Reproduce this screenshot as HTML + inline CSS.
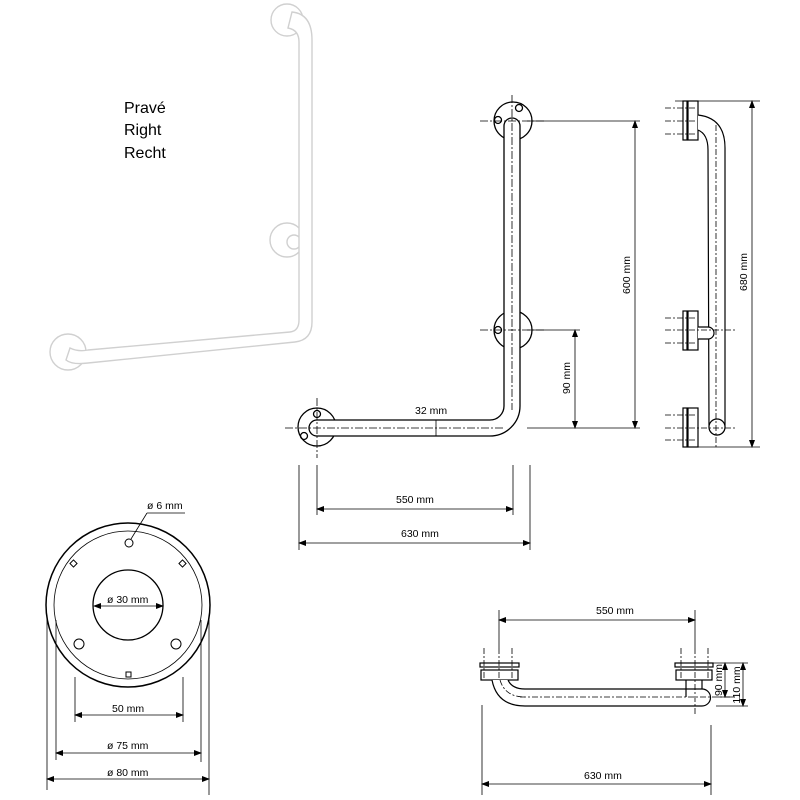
<!DOCTYPE html>
<html><head><meta charset="utf-8"><style>
body{margin:0;background:#fff}
svg{display:block}
text{font-family:"Liberation Sans",sans-serif;font-size:10.5px;fill:#000}
</style></head><body>
<svg width="800" height="800" viewBox="0 0 800 800" xmlns="http://www.w3.org/2000/svg">
<defs>
<marker id="a" markerWidth="8" markerHeight="6" refX="7" refY="3" orient="auto-start-reverse" markerUnits="userSpaceOnUse"><path d="M0,0 L8,3 L0,6 z" fill="#000"/></marker>
</defs>
<!-- photo grab bar -->
<g fill="#fff" stroke="#d0d0d0" stroke-width="1.4">
<circle cx="287" cy="20" r="16"/>
<circle cx="287" cy="240" r="17"/>
<circle cx="68" cy="352" r="18"/>
<circle cx="294" cy="242" r="7"/>
<path d="M292,12 Q312,14 312,40 L312,322 Q312,340 295,342 L88,363 Q72,365 66,360 L70,348 Q78,352 88,350 L290,332 Q299,331 299,320 L299,42 Q299,30 288,28 Z"/>
</g>
<text x="124" y="113" style="font-size:16px">Pravé</text>
<text x="124" y="135" style="font-size:16px">Right</text>
<text x="124" y="158" style="font-size:16px">Recht</text>

<!-- front view -->
<g fill="none" stroke="#000" stroke-width="1.3">
<circle cx="513" cy="121" r="19"/>
<circle cx="513" cy="330" r="19"/>
<circle cx="317" cy="427" r="19"/>
<path d="M504,126 A8,8 0 0 1 520,126 L520,406 A30,30 0 0 1 490,436 L317,436 A8,8 0 0 1 317,420 L490,420 A14,14 0 0 0 504,406 Z" fill="#fff"/>
<circle cx="498" cy="120" r="3.5"/><circle cx="519" cy="108" r="3.5"/>
<circle cx="498" cy="330" r="3.5"/>
<circle cx="317" cy="414" r="3.5"/><circle cx="304" cy="436" r="3.5"/>
</g>
<g stroke="#000" stroke-width="0.8" stroke-dasharray="8,2,2,2" fill="none">
<line x1="512" y1="95" x2="512" y2="410"/>
<line x1="480" y1="121" x2="545" y2="121"/>
<line x1="480" y1="330" x2="545" y2="330"/>
<line x1="317" y1="398" x2="317" y2="458"/>
<line x1="285" y1="428" x2="505" y2="428"/>
</g>
<g stroke="#000" stroke-width="0.8" fill="none">
<line x1="527" y1="121" x2="640" y2="121"/>
<line x1="527" y1="428" x2="640" y2="428"/>
<line x1="527" y1="330" x2="580" y2="330"/>
<line x1="635" y1="121" x2="635" y2="428" marker-start="url(#a)" marker-end="url(#a)"/>
<line x1="575" y1="330" x2="575" y2="428" marker-start="url(#a)" marker-end="url(#a)"/>
<line x1="436" y1="420" x2="436" y2="436"/>
<line x1="299" y1="465" x2="299" y2="550"/>
<line x1="530" y1="465" x2="530" y2="550"/>
<line x1="317" y1="465" x2="317" y2="515"/>
<line x1="513" y1="465" x2="513" y2="515"/>
<line x1="317" y1="509" x2="513" y2="509" marker-start="url(#a)" marker-end="url(#a)"/>
<line x1="299" y1="543" x2="530" y2="543" marker-start="url(#a)" marker-end="url(#a)"/>
</g>
<text x="415" y="414">32 mm</text>
<text x="396" y="503">550 mm</text>
<text x="401" y="537">630 mm</text>
<text transform="translate(630,275) rotate(-90)" text-anchor="middle">600 mm</text>
<text transform="translate(570,378) rotate(-90)" text-anchor="middle">90 mm</text>

<!-- side view -->
<g fill="#fff" stroke="#000" stroke-width="1.2">
<rect x="683" y="101" width="4" height="39"/><rect x="688" y="101" width="10" height="39"/>
<rect x="683" y="311" width="4" height="39"/><rect x="688" y="311" width="10" height="39"/>
<rect x="683" y="408" width="4" height="39"/><rect x="688" y="408" width="10" height="39"/>
<path d="M698,115 Q725,118 725,148 L725,427 A8,8 0 0 1 709,427 L708,150 Q708,134 698,130"/>
<path d="M698,327 L708,327 A6,6 0 0 1 708,339 L698,339"/>
<circle cx="717" cy="427" r="8"/>
</g>
<g stroke="#000" stroke-width="0.8" stroke-dasharray="6,2,2,2" fill="none">
<line x1="665" y1="108" x2="695" y2="108"/><line x1="665" y1="121" x2="695" y2="121"/><line x1="665" y1="134" x2="695" y2="134"/>
<line x1="665" y1="318" x2="695" y2="318"/><line x1="665" y1="330" x2="735" y2="330"/><line x1="665" y1="343" x2="695" y2="343"/>
<line x1="665" y1="415" x2="695" y2="415"/><line x1="665" y1="428" x2="735" y2="428"/><line x1="665" y1="440" x2="695" y2="440"/>
<line x1="716" y1="125" x2="716" y2="447"/>
</g>
<g stroke="#000" stroke-width="0.8">
<line x1="675" y1="101" x2="760" y2="101"/><line x1="690" y1="447" x2="760" y2="447"/>
<line x1="752" y1="101" x2="752" y2="447" marker-start="url(#a)" marker-end="url(#a)"/>
</g>
<text transform="translate(747,272) rotate(-90)" text-anchor="middle">680 mm</text>

<!-- circle view -->
<g fill="none" stroke="#000">
<circle cx="128" cy="605" r="82" stroke-width="1.5"/>
<circle cx="128" cy="605" r="74" stroke-width="0.8"/>
<circle cx="128" cy="605" r="35" stroke-width="1.3"/>
<circle cx="129" cy="543" r="4"/><circle cx="79" cy="644" r="5"/><circle cx="176" cy="644" r="5"/>
<rect x="71" y="561" width="5" height="5" transform="rotate(45 73.5 563.5)"/>
<rect x="180" y="561" width="5" height="5" transform="rotate(45 182.5 563.5)"/>
<rect x="126" y="672" width="5" height="5"/>
<line x1="131" y1="539" x2="147" y2="513" stroke-width="0.8"/>
<line x1="147" y1="513" x2="185" y2="513" stroke-width="0.8"/>
</g>
<g stroke="#000" stroke-width="0.8">
<line x1="94" y1="606" x2="163" y2="606" marker-start="url(#a)" marker-end="url(#a)"/>
<line x1="75" y1="677" x2="75" y2="722"/><line x1="183" y1="677" x2="183" y2="722"/>
<line x1="75" y1="715" x2="183" y2="715" marker-start="url(#a)" marker-end="url(#a)"/>
<line x1="56" y1="620" x2="56" y2="760"/><line x1="201" y1="620" x2="201" y2="762"/>
<line x1="56" y1="753" x2="201" y2="753" marker-start="url(#a)" marker-end="url(#a)"/>
<line x1="47" y1="615" x2="47" y2="790"/><line x1="209" y1="620" x2="209" y2="795"/>
<line x1="47" y1="779" x2="209" y2="779" marker-start="url(#a)" marker-end="url(#a)"/>
</g>
<text x="147" y="509">ø 6 mm</text>
<text x="107" y="603">ø 30 mm</text>
<text x="112" y="712">50 mm</text>
<text x="107" y="749">ø 75 mm</text>
<text x="107" y="776">ø 80 mm</text>

<!-- bottom view -->
<g fill="#fff" stroke="#000" stroke-width="1.2">
<rect x="480" y="663" width="39" height="4"/><rect x="481" y="670" width="37" height="10"/>
<rect x="675" y="663" width="38" height="4"/><rect x="676" y="670" width="36" height="10"/>
<path d="M492,680 Q497,706 525,706 L702,706 A8.5,8.5 0 0 0 702,689 L525,689 Q512,689 508,680"/>
<line x1="686" y1="680" x2="686" y2="697"/><line x1="702" y1="680" x2="702" y2="689"/>
</g>
<g stroke="#000" stroke-width="0.8" stroke-dasharray="6,2,2,2" fill="none">
<line x1="484" y1="648" x2="484" y2="680"/><line x1="499" y1="648" x2="499" y2="680"/><line x1="512" y1="648" x2="512" y2="680"/>
<line x1="681" y1="648" x2="681" y2="680"/><line x1="708" y1="648" x2="708" y2="680"/>
<line x1="695" y1="648" x2="695" y2="716"/>
<line x1="520" y1="697" x2="730" y2="697"/>
<path d="M500,680 Q505,697 525,697"/>
</g>
<g stroke="#000" stroke-width="0.8">
<line x1="499" y1="610" x2="499" y2="648"/><line x1="695" y1="610" x2="695" y2="648"/>
<line x1="499" y1="620" x2="695" y2="620" marker-start="url(#a)" marker-end="url(#a)"/>
<line x1="482" y1="705" x2="482" y2="795"/><line x1="711" y1="725" x2="711" y2="795"/>
<line x1="482" y1="784" x2="711" y2="784" marker-start="url(#a)" marker-end="url(#a)"/>
<line x1="713" y1="663" x2="748" y2="663"/><line x1="718" y1="697" x2="735" y2="697"/><line x1="716" y1="706" x2="748" y2="706"/>
<line x1="725" y1="663" x2="725" y2="697" marker-start="url(#a)" marker-end="url(#a)"/>
<line x1="743" y1="663" x2="743" y2="706" marker-start="url(#a)" marker-end="url(#a)"/>
</g>
<text x="596" y="614">550 mm</text>
<text x="584" y="779">630 mm</text>
<text transform="translate(722,680) rotate(-90)" text-anchor="middle">90 mm</text>
<text transform="translate(740,685) rotate(-90)" text-anchor="middle">110 mm</text>
</svg>
</body></html>
